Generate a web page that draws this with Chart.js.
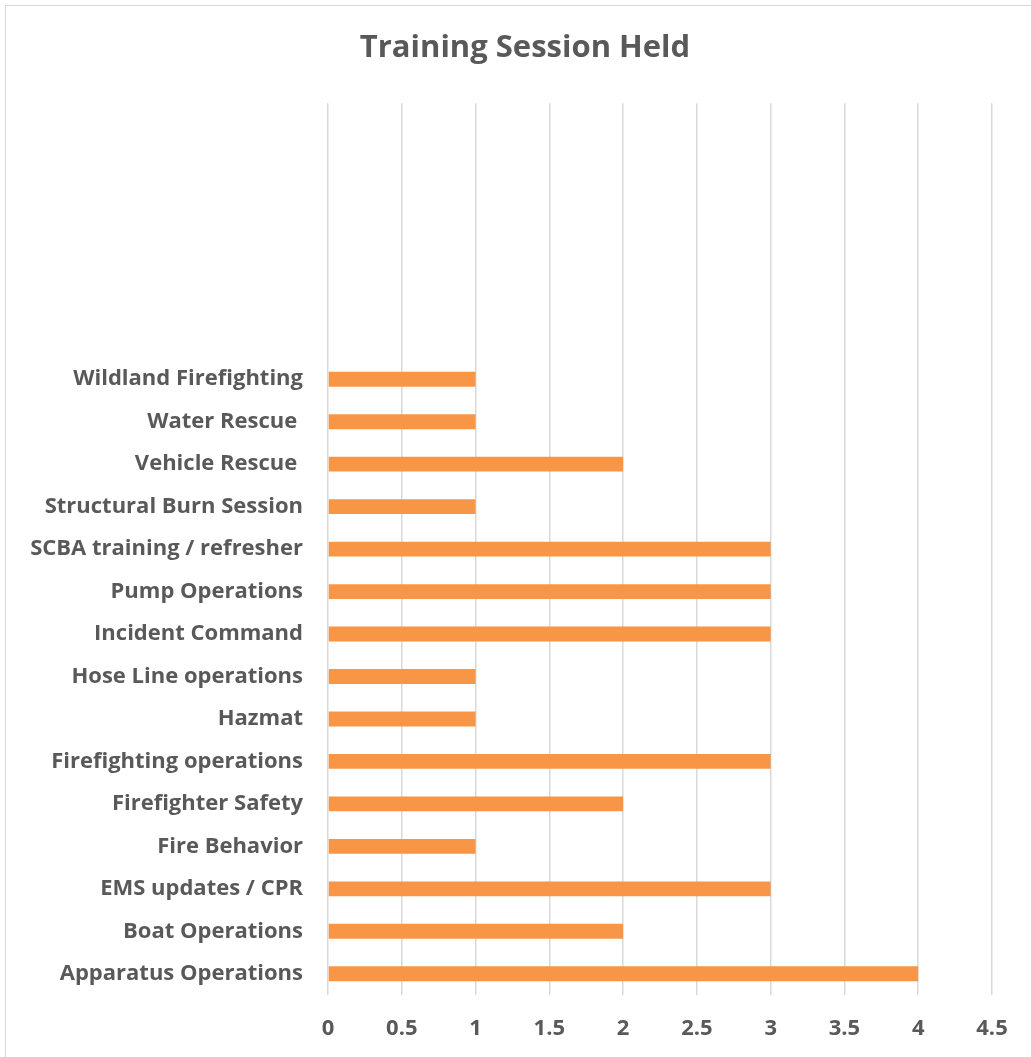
<!DOCTYPE html>
<html>
<head>
<meta charset="utf-8">
<script src="https://cdn.jsdelivr.net/npm/chart.js@4.4.0/dist/chart.umd.min.js"></script>
<style>
  html, body { margin: 0; padding: 0; background: #fff; overflow: hidden; }
  #wrap { position: relative; width: 1031px; height: 1057px; overflow: hidden; }
  #frame { position: absolute; left: 5px; top: 5px; width: 1100px; height: 1100px; border: 1px solid #d9d9d9; box-sizing: border-box; }
  canvas { position: absolute; left: 0; top: 0; }
</style>
</head>
<body>
<div id="wrap">
  <div id="frame"></div>
  <canvas id="chart" width="1031" height="1057"></canvas>
</div>
<script>
// Categories as listed in the sheet (bottom to top in the picture); the last six are blank rows
const categories = [
  'Apparatus Operations',
  'Boat Operations',
  'EMS updates / CPR',
  'Fire Behavior',
  'Firefighter Safety',
  'Firefighting operations',
  'Hazmat',
  'Hose Line operations',
  'Incident Command',
  'Pump Operations',
  'SCBA training / refresher',
  'Structural Burn Session',
  'Vehicle Rescue ',
  'Water Rescue ',
  'Wildland Firefighting',
  '', '', '', '', '', ''
];
const sessions = [4, 2, 3, 1, 2, 3, 1, 1, 3, 3, 3, 1, 2, 1, 1, null, null, null, null, null, null];
const xTicks = [0, 0.5, 1, 1.5, 2, 2.5, 3, 3.5, 4, 4.5];

const labelColor = '#595959';
const fontFamily = "'Open Sans', Lato, sans-serif";

// the original chart is cropped on the right, so its title sits a bit right of our centre
const titleShift = {
  id: 'titleShift',
  afterLayout(chart) {
    if (chart.titleBlock) {
      chart.titleBlock.left += 29;
      chart.titleBlock.right += 29;
    }
  }
};

new Chart(document.getElementById('chart'), {
  type: 'bar',
  data: {
    labels: categories,
    datasets: [{
      label: 'Training Session Held',
      data: sessions,
      backgroundColor: '#f79646',
      borderWidth: 0,
      barPercentage: 0.35,
      categoryPercentage: 1
    }]
  },
  options: {
    indexAxis: 'y',
    responsive: false,
    animation: false,
    layout: { padding: { left: 0, right: 39, top: 0, bottom: 0 } },
    plugins: {
      legend: { display: false },
      tooltip: { enabled: false },
      title: {
        display: true,
        text: 'Training Session Held',
        color: labelColor,
        font: { family: fontFamily, size: 31, weight: 'bold', lineHeight: 1.2 },
        padding: { top: 30, bottom: 36 }
      }
    },
    scales: {
      x: {
        min: 0,
        max: 4.5,
        afterBuildTicks: (axis) => { axis.ticks = xTicks.map(v => ({ value: v })); },
        afterFit: (axis) => { axis.height = 62; },
        grid: { color: '#d9d9d9', lineWidth: 1.5, drawTicks: false },
        border: { display: false },
        ticks: {
          color: labelColor,
          padding: 21,
          font: { family: fontFamily, size: 22, weight: 'bold' },
          callback: (v) => String(v)
        }
      },
      y: {
        reverse: true,
        afterFit: (axis) => { axis.width = 328; },
        grid: { display: false },
        border: { display: false },
        ticks: {
          color: labelColor,
          padding: 17,
          autoSkip: false,
          font: { family: fontFamily, size: 22, weight: 'bold' }
        }
      }
    }
  },
  plugins: [titleShift]
});
</script>
</body>
</html>
